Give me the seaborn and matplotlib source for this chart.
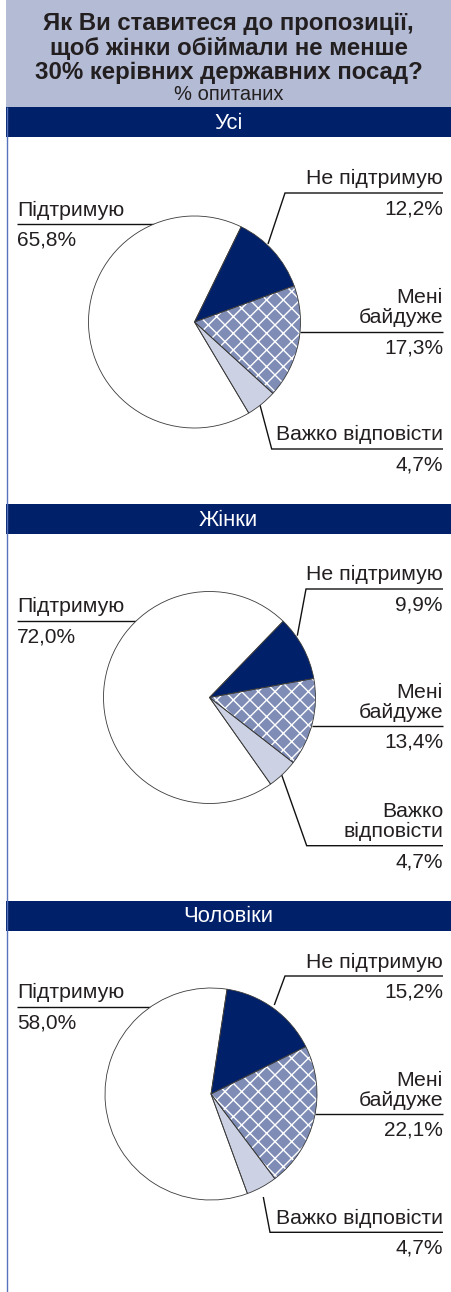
import matplotlib
matplotlib.use("Agg")
import matplotlib.pyplot as plt
from matplotlib.patches import Rectangle
import seaborn as sns

sns.set_theme(style="white")
plt.rcParams["font.family"] = ["Liberation Sans", "DejaVu Sans"]
plt.rcParams["hatch.linewidth"] = 1.0

# ---- data -------------------------------------------------------------
title_lines = [
    "Як Ви ставитеся до пропозиції,",
    "щоб жінки обіймали не менше",
    "30% керівних державних посад?",
]
subtitle = "% опитаних"
groups = ["Усі", "Жінки", "Чоловіки"]
answers = ["Не підтримую", "Мені байдуже", "Важко відповісти", "Підтримую"]
share_all = [12.2, 17.3, 4.7, 65.8]
share_women = [9.9, 13.4, 4.7, 72.0]
share_men = [15.2, 22.1, 4.7, 58.0]

# ---- style ------------------------------------------------------------
NAVY = "#00206a"
MID = "#7f8db6"
LIGHT = "#ccd2e3"
HEADER = "#b3bbd5"
BORDER = "#5773bb"
INK = "#231f20"
palette = sns.color_palette([NAVY, MID, LIGHT, "#ffffff"])

W, H = 451, 1292
R = 106
NAME_SIZE = 15.3
VALUE_SIZE = 15
BAND_SIZE = 15.8

# label layout per panel: wrapped names and leader polylines (pixel space)
panels = [
    dict(values=share_all, band=107, center=(194.5, 322), start=63.9,
         names=["Не підтримую", "Мені\nбайдуже", "Важко відповісти", "Підтримую"],
         leaders=[[(268, 244), (285, 193), (443, 193)],
                  [(300, 331.7), (443, 331.7)],
                  [(260, 405), (271.7, 449), (443, 449)],
                  [(154, 224), (17, 224)]]),
    dict(values=share_women, band=504, center=(209.5, 697.5), start=46.0,
         names=["Не підтримую", "Мені\nбайдуже", "Важко\nвідповісти", "Підтримую"],
         leaders=[[(297.3, 635.7), (306, 589), (443, 589)],
                  [(311.5, 726.3), (443, 726.3)],
                  [(281.7, 775), (306.7, 845.7), (443, 845.7)],
                  [(136.5, 620.7), (17, 620.7)]]),
    dict(values=share_men, band=900.5, center=(211, 1094), start=81.3,
         names=["Не підтримую", "Мені\nбайдуже", "Важко відповісти", "Підтримую"],
         leaders=[[(274.3, 1005), (285, 976), (443, 976)],
                  [(315.1, 1114), (443, 1114)],
                  [(263.3, 1197), (270, 1232.3), (443, 1232.3)],
                  [(151, 1006.7), (17, 1006.7)]]),
]


def fmt(v):
    return f"{v:.1f}".replace(".", ",") + "%"


fig = plt.figure(figsize=(W / 100, H / 100), dpi=100, facecolor="white")
bg = fig.add_axes([0, 0, 1, 1])
bg.set_xlim(0, W)
bg.set_ylim(H, 0)
bg.axis("off")

# header block
bg.add_patch(Rectangle((6, 0), W - 6, 107, color=HEADER, lw=0))
bg.plot([6.5, 6.5], [107, H], color=BORDER, lw=1.0, solid_capstyle="butt")
for line, base in zip(title_lines, [30, 55, 79]):
    bg.text(228.5, base, line, ha="center", va="baseline", fontsize=17.3,
            fontweight="bold", color=INK)
bg.text(228.5, 100, subtitle, ha="center", va="baseline", fontsize=14.5,
        color=INK)


def draw_pie(cx, cy, values, start):
    ax = fig.add_axes([(cx - R) / W, 1 - (cy + R) / H, 2 * R / W, 2 * R / H])
    wedges, _ = ax.pie(values, colors=palette, startangle=start,
                       counterclock=False, wedgeprops=dict(linewidth=0))
    hatched = wedges[1]
    hatched.set_hatch("xx")
    hatched.set_edgecolor("white")
    if hasattr(hatched, "set_hatchcolor"):
        hatched.set_hatchcolor("white")
    outline, _ = ax.pie(values, colors=["none"] * len(values), startangle=start,
                        counterclock=False,
                        wedgeprops=dict(fill=False, edgecolor="#3a3a3a",
                                        linewidth=0.6))
    for w in list(wedges) + list(outline):
        w.set_clip_on(False)
    ax.set_xlim(-1, 1)
    ax.set_ylim(-1, 1)
    ax.axis("off")
    return ax


for group, p in zip(groups, panels):
    top = p["band"]
    bg.add_patch(Rectangle((6, top), W - 6, 30, color=NAVY, lw=0))
    bg.text(228.5, top + 22, group, ha="center", va="baseline",
            fontsize=BAND_SIZE, color="white")

    cx, cy = p["center"]
    draw_pie(cx, cy, p["values"], p["start"])

    for i, (name, val, pts) in enumerate(zip(p["names"], p["values"], p["leaders"])):
        xs, ys = zip(*pts)
        bg.plot(xs, ys, color="#111111", lw=1.0, solid_capstyle="butt",
                solid_joinstyle="miter")
        line_y = pts[-1][1]
        if i == 3:
            x, ha = 17, "left"
        else:
            x, ha = 443, "right"
        rows = name.split("\n")
        for k, row in enumerate(reversed(rows)):
            bg.text(x, line_y - 8.5 - 20 * k, row, ha=ha, va="baseline",
                    fontsize=NAME_SIZE, color=INK)
        bg.text(x, line_y + 21.5, fmt(val), ha=ha, va="baseline",
                fontsize=VALUE_SIZE, color=INK)

fig.savefig("out.png", dpi=100, facecolor="white")
